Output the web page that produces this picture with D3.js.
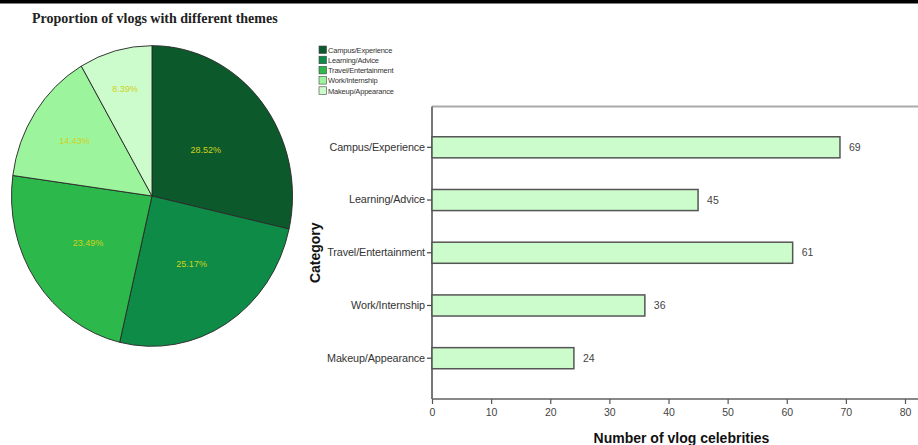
<!DOCTYPE html>
<html>
<head>
<meta charset="utf-8">
<script src="https://cdn.jsdelivr.net/npm/d3@7"></script>
<style>
	body { margin: 0; background: #fff; }
	svg { display: block; font-family: "Liberation Sans", Arial, sans-serif; }
</style>
</head>
<body>
<svg class="graph"></svg>
<script>

var themes = ["Campus/Experience", "Learning/Advice", "Travel/Entertainment", "Work/Internship", "Makeup/Appearance"];
var sharePct = [28.52, 25.17, 23.49, 14.43, 8.39];
var celebCount = [69, 45, 61, 36, 24];
var xTicks = [0, 10, 20, 30, 40, 50, 60, 70, 80];
var greens = ["#0c5a2c", "#0e8b47", "#2db84b", "#9cf59c", "#ccfccc"];

var width = 918, height = 445;

var svg = d3.select(".graph");
svg.attr("width", width)
	.attr("height", height);

// top black rule
svg.append("rect")
	.attr("x", 0).attr("y", 0)
	.attr("width", width).attr("height", 3.5)
	.style("fill", "#000");

svg.append("text")
	.attr("x", 32).attr("y", 23)
	.style("font-family", "'Liberation Serif', 'Times New Roman', serif")
	.style("font-weight", "bold")
	.style("font-size", "14px")
	.style("fill", "#222")
	.text("Proportion of vlogs with different themes");

function drawPie(){
	var cx = 152, cy = 196, r = 140.5, squash = 1.07;

	var pieData = d3.pie().sort(null).value(function(d){return d})(sharePct);
	var arc = d3.arc().innerRadius(0).outerRadius(r);

	var pie = svg.append("g")
		.attr("transform", "translate(" + cx + "," + cy + ") scale(1," + squash + ")");

	pie.selectAll("path")
		.data(pieData)
		.enter().append("path")
		.attr("d", arc)
		.style("fill", function(d, i){return greens[i]})
		.style("stroke", "#2a2a2a")
		.style("stroke-width", 0.9);

	// labels sit closer to the rim for the thinner slices
	svg.selectAll(".pieLabel")
		.data(pieData)
		.enter().append("text")
		.attr("class", "pieLabel")
		.attr("x", function(d){
			var a = (d.startAngle + d.endAngle)/2;
			var k = 0.84 - 0.0034*(d.endAngle - d.startAngle)*180/Math.PI;
			return cx + Math.sin(a)*r*k;
		})
		.attr("y", function(d){
			var a = (d.startAngle + d.endAngle)/2;
			var k = 0.84 - 0.0034*(d.endAngle - d.startAngle)*180/Math.PI;
			return cy - Math.cos(a)*r*k*squash;
		})
		.attr("dy", "0.35em")
		.attr("text-anchor", "middle")
		.style("font-size", "9px")
		.style("fill", "#cfd21a")
		.text(function(d){return d.data.toFixed(2) + "%"});

	var legend = svg.append("g").attr("transform", "translate(319,46)");
	var rows = legend.selectAll("g")
		.data(themes)
		.enter().append("g")
		.attr("transform", function(d, i){return "translate(0," + (i*10.2) + ")"});
	rows.append("rect")
		.attr("width", 7.5).attr("height", 7.5)
		.style("fill", function(d, i){return greens[i]})
		.style("stroke", "#444")
		.style("stroke-width", 0.6);
	rows.append("text")
		.attr("x", 9).attr("y", 6.8)
		.style("font-size", "7.5px")
		.style("letter-spacing", "-0.2px")
		.style("fill", "#333")
		.text(function(d){return d});
}

function drawBars(){
	var left = 432, right = 905, top = 106.5, bottom = 399;

	var xScale = d3.scaleLinear().domain([0, 80]).range([left, right]);
	var yScale = d3.scaleBand().domain(themes).range([top, bottom])
		.paddingInner(0.6).paddingOuter(0.574);

	// frame top line
	svg.append("line")
		.attr("x1", left).attr("x2", width)
		.attr("y1", top).attr("y2", top)
		.style("stroke", "#aaa").style("stroke-width", 2);

	var xAxis = d3.axisBottom(xScale).tickValues(xTicks).tickSize(5).tickSizeOuter(0);
	var gx = svg.append("g").attr("transform", "translate(0," + bottom + ")").call(xAxis);
	gx.select(".domain").attr("d", "M" + left + ",0H" + width)
		.style("stroke", "#888").style("stroke-width", 2);
	gx.selectAll(".tick line").style("stroke", "#555").style("stroke-width", 1.2);
	gx.selectAll(".tick text")
		.attr("y", 10)
		.style("font-family", "'Liberation Sans', Arial, sans-serif")
		.style("font-size", "10.5px").style("fill", "#444");

	var yAxis = d3.axisLeft(yScale).tickSize(5).tickSizeOuter(0);
	var gy = svg.append("g").attr("transform", "translate(" + left + ",0)").call(yAxis);
	gy.select(".domain").attr("d", "M0," + top + "V" + bottom)
		.style("stroke", "#777").style("stroke-width", 2);
	gy.selectAll(".tick line").style("stroke", "#444").style("stroke-width", 1.2);
	gy.selectAll(".tick text")
		.attr("x", -7)
		.style("font-family", "'Liberation Sans', Arial, sans-serif")
		.style("font-size", "10.8px").style("fill", "#333")
		.style("letter-spacing", "-0.1px");

	var barData = themes.map(function(t, i){return {Theme: t, Count: celebCount[i]}});

	svg.selectAll(".bar")
		.data(barData)
		.enter().append("rect")
		.attr("class", "bar")
		.attr("x", xScale(0))
		.attr("y", function(d){return yScale(d.Theme)})
		.attr("width", function(d){return xScale(d.Count) - xScale(0)})
		.attr("height", yScale.bandwidth())
		.style("fill", "#ccfccc")
		.style("stroke", "#555")
		.style("stroke-width", 1.5);

	svg.selectAll(".barLabel")
		.data(barData)
		.enter().append("text")
		.attr("class", "barLabel")
		.attr("x", function(d){return xScale(d.Count) + 9})
		.attr("y", function(d){return yScale(d.Theme) + yScale.bandwidth()/2})
		.attr("dy", "0.35em")
		.style("font-size", "10.5px")
		.style("fill", "#444")
		.text(function(d){return d.Count});

	svg.append("text")
		.attr("transform", "translate(320," + ((top + bottom)/2) + ") rotate(-90)")
		.attr("text-anchor", "middle")
		.style("font-weight", "bold")
		.style("font-size", "14px")
		.style("fill", "#111")
		.text("Category");

	svg.append("text")
		.attr("x", (left + right)/2 + 13).attr("y", 443)
		.attr("text-anchor", "middle")
		.style("font-weight", "bold")
		.style("font-size", "14px")
		.style("fill", "#111")
		.text("Number of vlog celebrities");
}

drawPie();
drawBars();
</script>
</body>
</html>
